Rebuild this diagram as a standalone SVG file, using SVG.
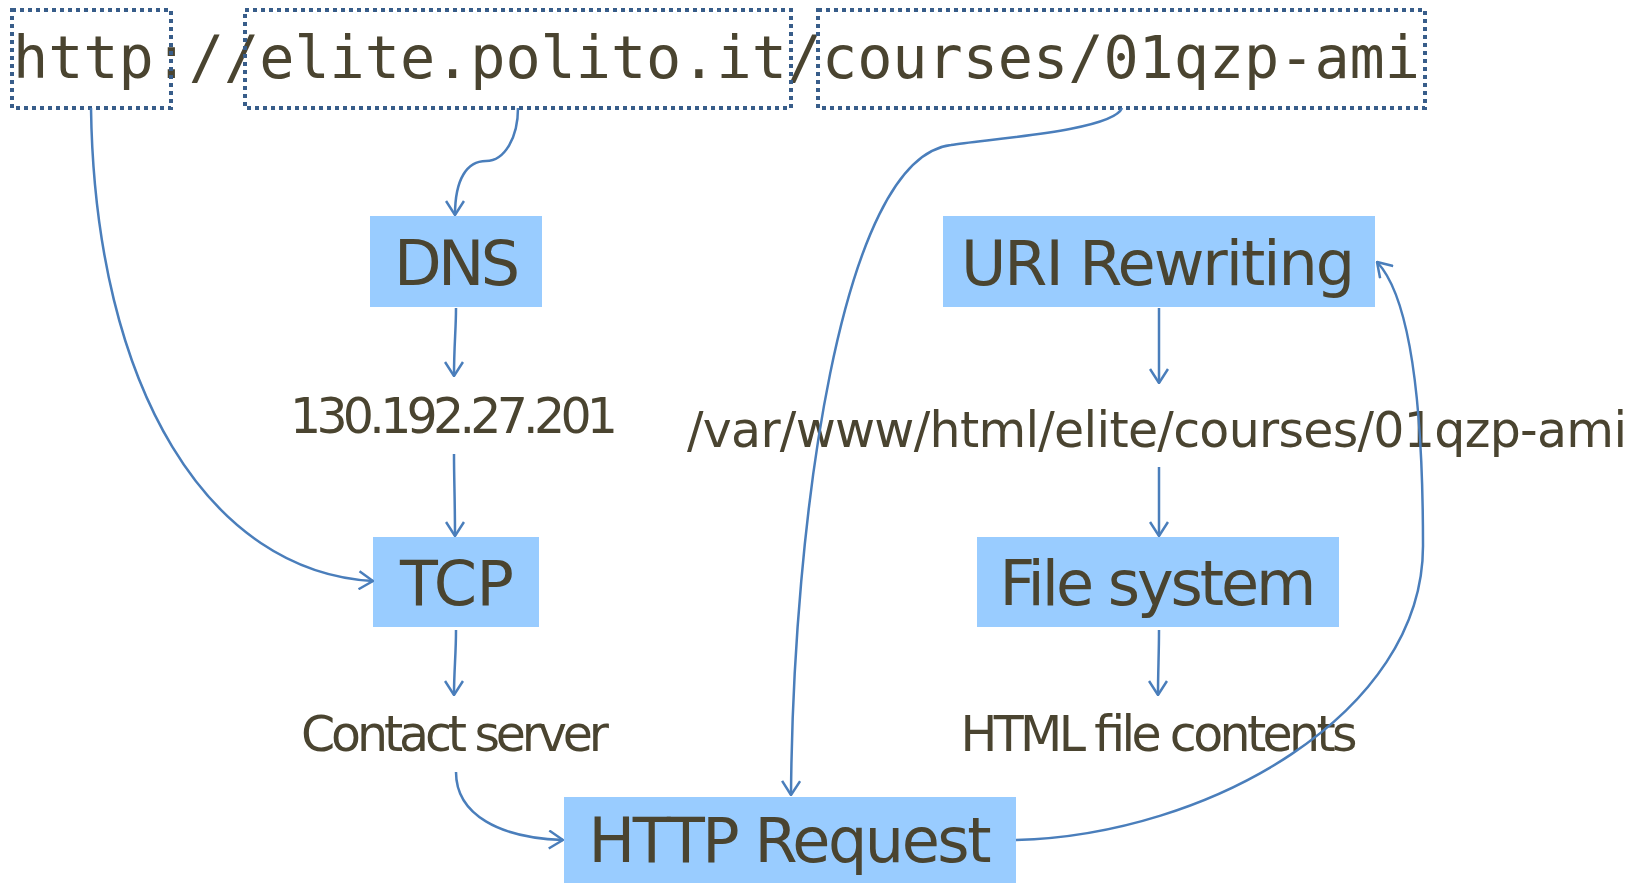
<svg xmlns="http://www.w3.org/2000/svg" width="1647" height="883" viewBox="0 0 1647 883">
<style>
.url{font-family:"DejaVu Sans Mono","Liberation Mono",monospace;font-size:58.5px;fill:#4a4430}
.dot{fill:none;stroke:#385d8a;stroke-width:4;stroke-dasharray:4 4}
.node{fill:#99ccff}
.nt{font-family:"DejaVu Sans","Liberation Sans",sans-serif;font-size:62px;fill:#4a4430;text-anchor:middle}
.lt{font-family:"DejaVu Sans","Liberation Sans",sans-serif;font-size:49px;fill:#4a4430;text-anchor:middle}
.c{fill:none;stroke:#4a7ebb;stroke-width:2.5;marker-end:url(#arr)}
</style>
<defs>
<marker id="arr" markerUnits="userSpaceOnUse" viewBox="0 0 16 20" refX="15" refY="10" markerWidth="16" markerHeight="20" orient="auto">
<path d="M1,1 L15,10 L1,19" fill="none" stroke="#4a7ebb" stroke-width="2.5"/>
</marker>
</defs>
<rect width="1647" height="883" fill="#ffffff"/>
<g id="url">
<text class="url" x="13" y="78" textLength="1407">http://elite.polito.it/courses/01qzp-ami</text>
<rect class="dot" x="12" y="10" width="159" height="98"/>
<rect class="dot" x="245" y="10" width="546" height="98"/>
<rect class="dot" x="818" y="10" width="607" height="98"/>
</g>
<g id="dns"><rect class="node" x="370" y="216" width="172" height="91"/><text class="nt" x="457" y="285" textLength="126">DNS</text></g>
<g id="uri"><rect class="node" x="943" y="216" width="432" height="91"/><text class="nt" x="1158" y="285" textLength="394">URI Rewriting</text></g>
<g id="tcp"><rect class="node" x="373" y="537" width="166" height="90"/><text class="nt" x="457" y="605" textLength="114">TCP</text></g>
<g id="fs"><rect class="node" x="977" y="537" width="362" height="90"/><text class="nt" x="1158" y="605" textLength="317">File system</text></g>
<g id="http"><rect class="node" x="564" y="797" width="452" height="86"/><text class="nt" x="790" y="862" textLength="403">HTTP Request</text></g>
<g id="ip"><text class="lt" x="454" y="433" textLength="328">130.192.27.201</text></g>
<g id="path"><text class="lt" x="1157" y="447" textLength="940">/var/www/html/elite/courses/01qzp-ami</text></g>
<g id="contact"><text class="lt" x="455" y="751" textLength="308">Contact server</text></g>
<g id="html"><text class="lt" x="1159" y="751" textLength="397">HTML file contents</text></g>
<g id="connectors">
<path class="c" d="M91,108 C95,390 210,572 373,581"/>
<path class="c" d="M518,108 C518,137 505,161 486,161 C467,161 455,179 455,215"/>
<path class="c" d="M1122,108 C1113,131 987,139 951,145 C840,158 793,525 791,795"/>
<path class="c" d="M456,308 C456,330 454,345 454,376"/>
<path class="c" d="M454,454 C454,480 455,500 455,536"/>
<path class="c" d="M456,630 C456,655 454,670 454,695"/>
<path class="c" d="M456,772 C456,815 500,838 563,840"/>
<path class="c" d="M1016,840 C1208,835 1423,714 1423,546 C1423,420 1413,300 1377,262"/>
<path class="c" d="M1159,308 L1159,383"/>
<path class="c" d="M1159,467 L1159,536"/>
<path class="c" d="M1159,630 C1159,655 1158,670 1158,695"/>
</g>
</svg>
